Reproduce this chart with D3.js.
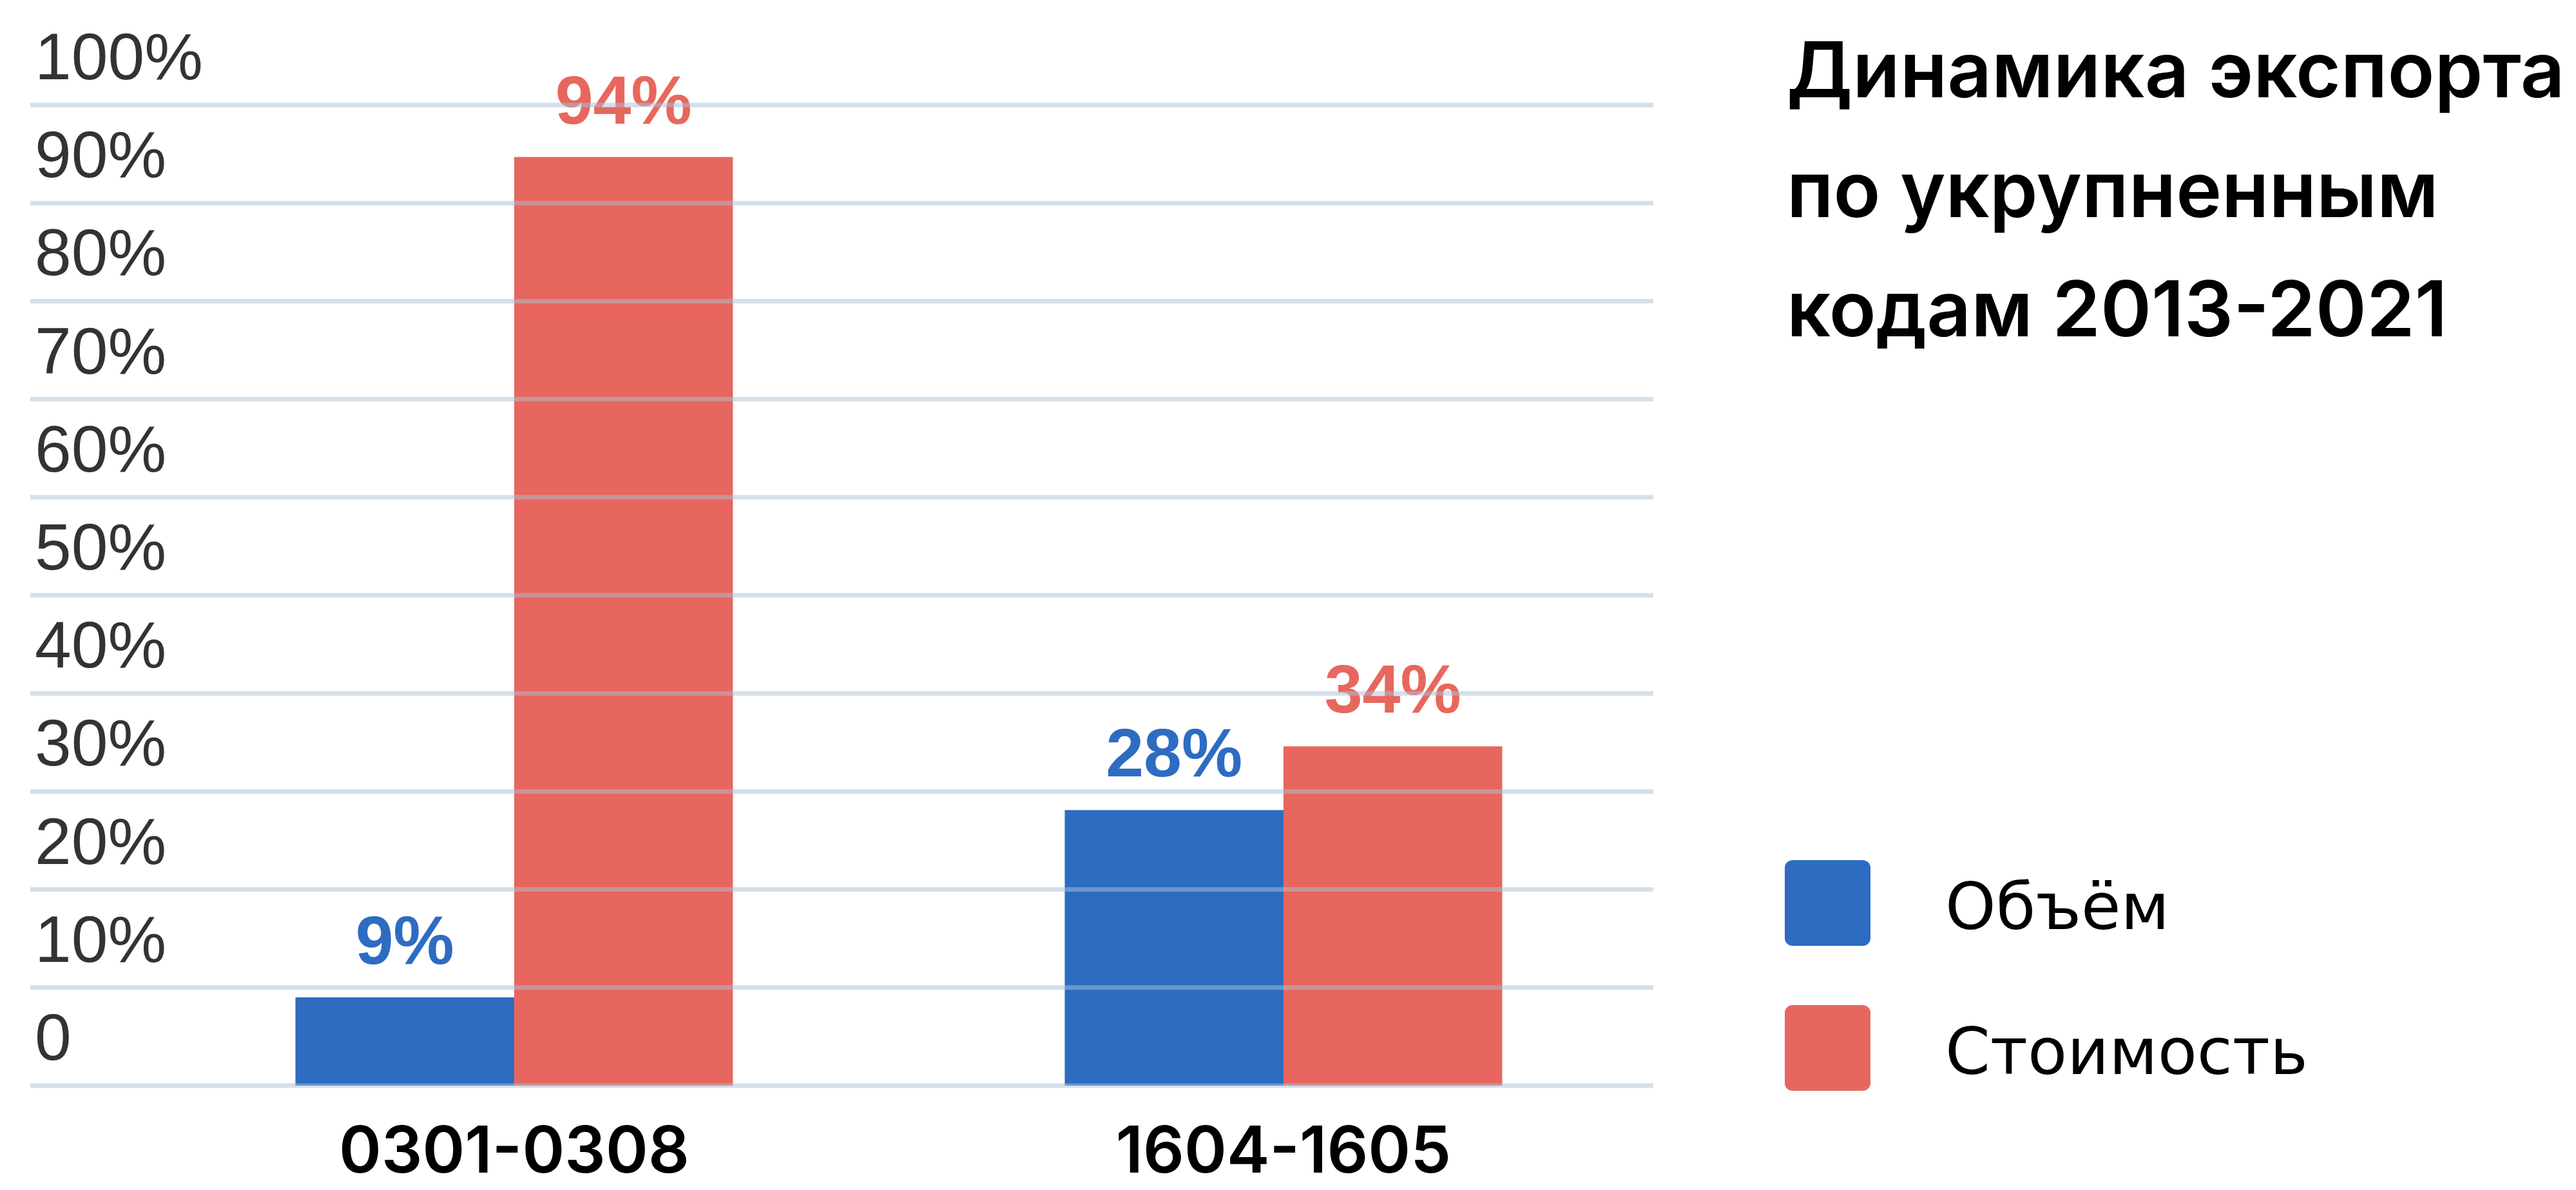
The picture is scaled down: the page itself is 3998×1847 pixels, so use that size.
<!DOCTYPE html>
<html>
<head>
<meta charset="utf-8">
<script src="https://cdn.jsdelivr.net/npm/d3@7"></script>
<style>
  html, body { margin: 0; padding: 0; background: #ffffff; }
  svg { display: block; }
</style>
</head>
<body>
<svg id="chart" width="3998" height="1847"></svg>
<script>
// ---- data ----
const categories = ["0301-0308", "1604-1605"];
const seriesNames = ["Объём", "Стоимость"];
const volumeValues = [9.0, 28.1];
const costValues = [94.7, 34.6];
const valueLabelsVolume = ["9%", "28%"];
const valueLabelsCost = ["94%", "34%"];
const tickValues = [0, 10, 20, 30, 40, 50, 60, 70, 80, 90, 100];
const tickLabels = ["0", "10%", "20%", "30%", "40%", "50%", "60%", "70%", "80%", "90%", "100%"];
const titleLines = ["Динамика экспорта", "по укрупненным", "кодам 2013-2021"];
const seriesColors = ["#2d6cc1", "#e7675e"];

// ---- layout ----
const svg = d3.select("#chart");
svg.append("rect").attr("width", 3998).attr("height", 1847).attr("fill", "#ffffff");

const gridX0 = 47, gridX1 = 2566;
const y = d3.scaleLinear().domain([0, 100]).range([1685, 163]);

const x = d3.scaleBand().domain(categories).range([201, 2589]).padding(0);
const xSub = d3.scaleBand().domain(seriesNames).range([0, x.bandwidth()])
  .paddingInner(0).paddingOuter(0.7586);

const rows = categories.map((c, i) => ({
  cat: c,
  items: [
    { s: seriesNames[0], v: volumeValues[i], label: valueLabelsVolume[i], color: seriesColors[0] },
    { s: seriesNames[1], v: costValues[i], label: valueLabelsCost[i], color: seriesColors[1] }
  ]
}));

// bars
const groups = svg.append("g").selectAll("g").data(rows).join("g")
  .attr("transform", d => `translate(${x(d.cat)},0)`);
groups.selectAll("rect").data(d => d.items).join("rect")
  .attr("x", d => xSub(d.s))
  .attr("width", xSub.bandwidth())
  .attr("y", d => y(d.v))
  .attr("height", d => y(0) - y(d.v))
  .attr("fill", d => d.color);

// value labels
groups.selectAll("text").data(d => d.items).join("text")
  .attr("x", d => xSub(d.s) + xSub.bandwidth() / 2)
  .attr("y", d => y(d.v) - 52)
  .attr("text-anchor", "middle")
  .attr("font-family", "'Liberation Sans', Arial, sans-serif")
  .attr("font-weight", "bold")
  .attr("font-size", 106)
  .attr("fill", d => d.color)
  .text(d => d.label);

// gridlines (drawn on top, semi-transparent)
svg.append("g").selectAll("line").data(tickValues).join("line")
  .attr("x1", gridX0).attr("x2", gridX1)
  .attr("y1", d => y(d)).attr("y2", d => y(d))
  .attr("stroke", "#a9c2d4")
  .attr("stroke-opacity", 0.5)
  .attr("stroke-width", 7);

// y tick labels (above gridlines)
svg.append("g").selectAll("text").data(tickValues).join("text")
  .attr("x", 54)
  .attr("y", d => y(d) - 40)
  .attr("font-family", "'Liberation Sans', Arial, sans-serif")
  .attr("font-size", 102)
  .attr("fill", "#333333")
  .text((d, i) => tickLabels[i]);

// category labels
svg.append("g").selectAll("text").data(categories).join("text")
  .attr("x", d => x(d) + x.bandwidth() / 2)
  .attr("y", 1820)
  .attr("text-anchor", "middle")
  .attr("font-family", "Inter, 'Liberation Sans', sans-serif")
  .attr("font-weight", 600)
  .attr("font-size", 100)
  .attr("fill", "#000000")
  .text(d => d);

// title
svg.append("g").selectAll("text").data(titleLines).join("text")
  .attr("x", 2773)
  .attr("y", (d, i) => 151 + i * 185.5)
  .attr("font-family", "Inter, 'Liberation Sans', sans-serif")
  .attr("font-weight", 600)
  .attr("font-size", 120)
  .attr("fill", "#000000")
  .text(d => d);

// legend
const legend = svg.append("g").selectAll("g").data(seriesNames).join("g")
  .attr("transform", (d, i) => `translate(2770, ${1335 + i * 225})`);
legend.append("rect")
  .attr("width", 133).attr("height", 133)
  .attr("rx", 12).attr("ry", 12)
  .attr("fill", (d, i) => seriesColors[i]);
legend.append("text")
  .attr("x", 249)
  .attr("y", 107)
  .attr("font-family", "'DejaVu Sans', Verdana, sans-serif")
  .attr("font-size", 100)
  .attr("fill", "#000000")
  .text(d => d);
</script>
</body>
</html>
